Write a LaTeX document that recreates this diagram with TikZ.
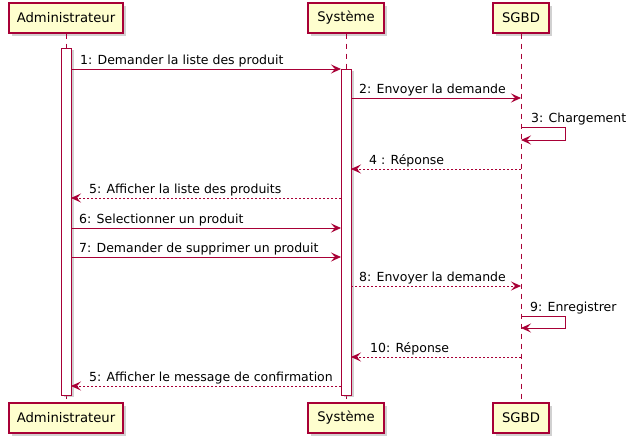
\documentclass[tikz,border=0pt]{standalone}
\usepackage{fontspec}
\setmainfont{DejaVu Sans}
\usetikzlibrary{arrows.meta,shadows}
\definecolor{umlred}{HTML}{A80036}
\definecolor{umlbox}{HTML}{FEFECE}

\begin{document}
\begin{tikzpicture}[x=1pt,y=-1pt,
  actor/.style={draw=umlred,fill=umlbox,line width=1.2pt,minimum height=30pt,inner sep=0pt,font=\fontsize{13.2}{15}\selectfont,drop shadow={shadow xshift=3pt,shadow yshift=-3pt,fill=black!40,opacity=0.45}},
  life/.style={umlred,line width=0.8pt,dash pattern=on 5pt off 5pt},
  bar/.style={draw=umlred,fill=white,line width=0.9pt,drop shadow={shadow xshift=3pt,shadow yshift=-2pt,fill=black!40,opacity=0.45}},
  msg/.style={umlred,line width=0.9pt,-{Stealth[length=10pt,width=9pt,inset=4pt]}},
  ret/.style={msg,dash pattern=on 2pt off 2pt},
  lbl/.style={anchor=base west,inner sep=0pt,font=\fontsize{12.5}{15}\selectfont}]

\useasboundingbox (0,0) rectangle (637,444);

\node[actor,minimum width=114pt](adm)at(66,18){Administrateur};
\node[actor,minimum width=76pt](sys)at(346,18){Système};
\node[actor,minimum width=56pt](db)at(521,18){SGBD};
\node[actor,minimum width=114pt](adm2)at(66,418){Administrateur};
\node[actor,minimum width=76pt](sys2)at(346,418){Système};
\node[actor,minimum width=56pt](db2)at(521,418){SGBD};

\draw[life](adm)--(adm2);
\draw[life](sys)--(sys2);
\draw[life](db)--(db2);

\draw[bar](61,48)rectangle(71,395);
\draw[bar](341,69)rectangle(351,395);

%% message ends
\coordinate(A1)at(71,69);   \coordinate(S1)at(341,69);
\coordinate(S2)at(351,98);  \coordinate(D2)at(521,98);
\coordinate(D3)at(521,127); \coordinate(D3b)at(521,140);
\coordinate(D4)at(521,169); \coordinate(S4)at(351,169);
\coordinate(S5)at(341,198); \coordinate(A5)at(71,198);
\coordinate(A6)at(71,228);  \coordinate(S6)at(341,228);
\coordinate(A7)at(71,257);  \coordinate(S7)at(341,257);
\coordinate(S8)at(351,286); \coordinate(D8)at(521,286);
\coordinate(D9)at(521,316); \coordinate(D9b)at(521,328);
\coordinate(D10)at(521,357);\coordinate(S10)at(351,357);
\coordinate(S11)at(341,386);\coordinate(A11)at(71,386);

\draw[msg](A1)--(S1);
\draw[msg](S2)--(D2);
\draw[msg](D3)-- ++(44,0) |- (D3b);
\draw[ret](D4)--(S4);
\draw[ret](S5)--(A5);
\draw[msg](A6)--(S6);
\draw[msg](A7)--(S7);
\draw[ret](S8)--(D8);
\draw[msg](D9)-- ++(44,0) |- (D9b);
\draw[ret](D10)--(S10);
\draw[ret](S11)--(A11);

\node[lbl](l1)at(80,64){1: Demander la liste des produit};
\node[lbl](l2)at(359,93){2: Envoyer la demande};
\node[lbl](l3)at(531,122){3: Chargement};
\node[lbl](l4)at(369,164){4 : Réponse};
\node[lbl](l5)at(89,193){5: Afficher la liste des produits};
\node[lbl](l6)at(79,223){6: Selectionner un produit};
\node[lbl](l7)at(79,252){7: Demander de supprimer un produit};
\node[lbl](l8)at(359,281){8: Envoyer la demande};
\node[lbl](l9)at(530,311){9: Enregistrer};
\node[lbl](l10)at(370,352){10: Réponse};
\node[lbl](l11)at(89,381){5: Afficher le message de confirmation};
\end{tikzpicture}
\end{document}
